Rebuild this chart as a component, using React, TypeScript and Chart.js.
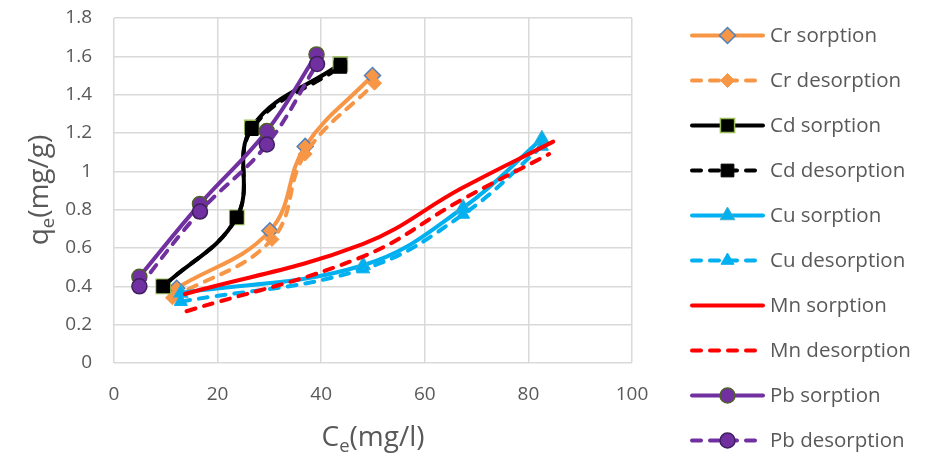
import React, { useEffect, useRef } from "react";
import { Chart, registerables } from "chart.js";

Chart.register(...registerables);

// ---------- data ----------
const seriesLabels = [
  "Cr sorption",
  "Cr desorption",
  "Cd sorption",
  "Cd desorption",
  "Cu sorption",
  "Cu desorption",
  "Mn sorption",
  "Mn desorption",
  "Pb sorption",
  "Pb desorption",
];

const crSorptionX = [12.1, 30.1, 36.9, 49.9];
const crSorptionY = [0.39, 0.69, 1.13, 1.5];
const crDesorptionX = [11.3, 30.5, 36.9, 50.3];
const crDesorptionY = [0.34, 0.645, 1.09, 1.46];

const cdSorptionX = [9.5, 23.7, 26.6, 43.7];
const cdSorptionY = [0.4, 0.76, 1.23, 1.56];
const cdDesorptionX = [9.5, 23.7, 26.6, 43.7];
const cdDesorptionY = [0.4, 0.76, 1.22, 1.545];

const cuSorptionX = [12.9, 48.1, 67.4, 82.6];
const cuSorptionY = [0.365, 0.51, 0.81, 1.17];
const cuDesorptionX = [12.9, 48.1, 67.4, 82.6];
const cuDesorptionY = [0.32, 0.49, 0.775, 1.13];

const mnSorptionX = [13.7, 48, 67, 84.8];
const mnSorptionY = [0.36, 0.62, 0.91, 1.155];
const mnDesorptionX = [14, 48, 67, 84];
const mnDesorptionY = [0.27, 0.555, 0.85, 1.09];

const pbSorptionX = [4.9, 16.6, 29.5, 39.1];
const pbSorptionY = [0.45, 0.83, 1.21, 1.61];
const pbDesorptionX = [4.9, 16.6, 29.5, 39.2];
const pbDesorptionY = [0.4, 0.79, 1.14, 1.56];

const xTickValues = [0, 20, 40, 60, 80, 100];
const yTickValues = [0, 0.2, 0.4, 0.6, 0.8, 1, 1.2, 1.4, 1.6, 1.8];

const xTitleMain = "C";
const xTitleSub = "e";
const xTitleRest = "(mg/l)";
const yTitleMain = "q";
const yTitleSub = "e";
const yTitleRest = "(mg/g)";

// ---------- styling ----------
const FONT = '"Open Sans", "Noto Sans", sans-serif';
const TEXT_COLOR = "#595959";
const ORANGE = "#F79646";
const BLUE_EDGE = "#4F81BD";
const GREEN_EDGE = "#9BBB59";
const CYAN = "#00B0F0";
const RED = "#FF0000";
const PURPLE = "#7030A0";
const DASH = [9, 9];
const LINE_W = 4;

const toPoints = (xs: number[], ys: number[]) => xs.map((x, i) => ({ x, y: ys[i] }));

type Style = {
  color: string;
  dashed: boolean;
  marker: string | false;
  radius: number;
  fill: string;
  edge: string;
  edgeWidth: number;
};

const styles: Style[] = [
  { color: ORANGE, dashed: false, marker: "rectRot", radius: 8, fill: ORANGE, edge: BLUE_EDGE, edgeWidth: 1.5 },
  { color: ORANGE, dashed: true, marker: "rectRot", radius: 7, fill: ORANGE, edge: ORANGE, edgeWidth: 1 },
  { color: "#000000", dashed: false, marker: "rect", radius: 10, fill: "#000000", edge: GREEN_EDGE, edgeWidth: 1.5 },
  { color: "#000000", dashed: true, marker: "rect", radius: 9, fill: "#000000", edge: "#000000", edgeWidth: 1 },
  { color: CYAN, dashed: false, marker: "triangle", radius: 8.5, fill: CYAN, edge: "#4BACC6", edgeWidth: 1 },
  { color: CYAN, dashed: true, marker: "triangle", radius: 7.5, fill: CYAN, edge: CYAN, edgeWidth: 1 },
  { color: RED, dashed: false, marker: false, radius: 0, fill: RED, edge: RED, edgeWidth: 0 },
  { color: RED, dashed: true, marker: false, radius: 0, fill: RED, edge: RED, edgeWidth: 0 },
  { color: PURPLE, dashed: false, marker: "circle", radius: 7.5, fill: PURPLE, edge: "#4F6228", edgeWidth: 1.5 },
  { color: PURPLE, dashed: true, marker: "circle", radius: 7.5, fill: PURPLE, edge: "#3F1F5F", edgeWidth: 1.5 },
];

const seriesData = [
  toPoints(crSorptionX, crSorptionY),
  toPoints(crDesorptionX, crDesorptionY),
  toPoints(cdSorptionX, cdSorptionY),
  toPoints(cdDesorptionX, cdDesorptionY),
  toPoints(cuSorptionX, cuSorptionY),
  toPoints(cuDesorptionX, cuDesorptionY),
  toPoints(mnSorptionX, mnSorptionY),
  toPoints(mnDesorptionX, mnDesorptionY),
  toPoints(pbSorptionX, pbSorptionY),
  toPoints(pbDesorptionX, pbDesorptionY),
];

// layout constants
const W = 935;
const H = 456;
const AREA_LEFT = 114;
const AREA_TOP = 18;
const AREA_RIGHT = 632;
const AREA_BOTTOM = 363;

const LEGEND_LINE_X0 = 692;
const LEGEND_LINE_X1 = 763;
const LEGEND_TEXT_X = 770;
const LEGEND_Y0 = 35.5;
const LEGEND_STEP = 45;
const LEGEND_FONT = 20.5;
const TICK_FONT = 19;
const TITLE_FONT = 28;

function drawMarker(ctx: CanvasRenderingContext2D, st: Style, x: number, y: number) {
  if (!st.marker) return;
  const r = st.radius;
  ctx.save();
  ctx.setLineDash([]);
  ctx.beginPath();
  if (st.marker === "circle") {
    ctx.arc(x, y, r, 0, Math.PI * 2);
  } else if (st.marker === "rect") {
    const s = Math.SQRT1_2 * r;
    ctx.rect(x - s, y - s, 2 * s, 2 * s);
  } else if (st.marker === "rectRot") {
    ctx.moveTo(x, y - r);
    ctx.lineTo(x + r, y);
    ctx.lineTo(x, y + r);
    ctx.lineTo(x - r, y);
    ctx.closePath();
  } else if (st.marker === "triangle") {
    const rad = -Math.PI / 2;
    for (let k = 0; k < 3; k++) {
      const a = rad + (k * 2 * Math.PI) / 3;
      const px = x + Math.cos(a) * r;
      const py = y + Math.sin(a) * r;
      if (k === 0) ctx.moveTo(px, py);
      else ctx.lineTo(px, py);
    }
    ctx.closePath();
  }
  ctx.fillStyle = st.fill;
  ctx.fill();
  if (st.edgeWidth > 0) {
    ctx.lineWidth = st.edgeWidth;
    ctx.strokeStyle = st.edge;
    ctx.stroke();
  }
  ctx.restore();
}

function drawSubscriptText(
  ctx: CanvasRenderingContext2D,
  main: string,
  sub: string,
  rest: string,
  cx: number,
  baseline: number,
  size: number
) {
  const subSize = size * 0.66;
  ctx.font = `${size}px ${FONT}`;
  const wMain = ctx.measureText(main).width;
  const wRest = ctx.measureText(rest).width;
  ctx.font = `${subSize}px ${FONT}`;
  const wSub = ctx.measureText(sub).width;
  const total = wMain + wSub + wRest;
  let x = cx - total / 2;
  ctx.textAlign = "left";
  ctx.textBaseline = "alphabetic";
  ctx.fillStyle = TEXT_COLOR;
  ctx.font = `${size}px ${FONT}`;
  ctx.fillText(main, x, baseline);
  x += wMain;
  ctx.font = `${subSize}px ${FONT}`;
  ctx.fillText(sub, x, baseline + size * 0.2);
  x += wSub;
  ctx.font = `${size}px ${FONT}`;
  ctx.fillText(rest, x, baseline);
}

const decorPlugin = {
  id: "decor",
  afterDraw(chart: any) {
    const ctx: CanvasRenderingContext2D = chart.ctx;
    ctx.save();
    // legend
    chart.data.datasets.forEach((ds: any, i: number) => {
      const st = styles[i];
      const y = LEGEND_Y0 + i * LEGEND_STEP;
      ctx.save();
      ctx.beginPath();
      ctx.lineWidth = LINE_W;
      ctx.lineCap = "round";
      ctx.strokeStyle = st.color;
      ctx.setLineDash(st.dashed ? DASH : []);
      ctx.moveTo(LEGEND_LINE_X0, y);
      ctx.lineTo(LEGEND_LINE_X1, y);
      ctx.stroke();
      ctx.restore();
      drawMarker(ctx, st, (LEGEND_LINE_X0 + LEGEND_LINE_X1) / 2, y);
      ctx.font = `${LEGEND_FONT}px ${FONT}`;
      ctx.fillStyle = TEXT_COLOR;
      ctx.textAlign = "left";
      ctx.textBaseline = "middle";
      ctx.fillText(ds.label, LEGEND_TEXT_X, y + 1);
    });
    // x title
    drawSubscriptText(ctx, xTitleMain, xTitleSub, xTitleRest, 373, 446, TITLE_FONT);
    // y title
    ctx.save();
    ctx.translate(48, 190);
    ctx.rotate(-Math.PI / 2);
    drawSubscriptText(ctx, yTitleMain, yTitleSub, yTitleRest, 0, 0, TITLE_FONT);
    ctx.restore();
    ctx.restore();
  },
};

export default function App() {
  const canvasRef = useRef<HTMLCanvasElement | null>(null);

  useEffect(() => {
    if (!canvasRef.current) return;
    const datasets = seriesData.map((pts, i) => {
      const st = styles[i];
      return {
        label: seriesLabels[i],
        data: pts,
        showLine: true,
        tension: 0.4,
        borderColor: st.color,
        backgroundColor: st.fill,
        borderWidth: LINE_W,
        borderDash: st.dashed ? DASH : [],
        borderCapStyle: "round" as const,
        borderJoinStyle: "round" as const,
        pointStyle: st.marker === false ? false : (st.marker as any),
        pointRadius: st.marker ? st.radius : 0,
        pointBackgroundColor: st.fill,
        pointBorderColor: st.edge,
        pointBorderWidth: st.edgeWidth,
        order: -i,
      };
    });

    const chart = new Chart(canvasRef.current, {
      type: "scatter",
      data: { datasets },
      options: {
        animation: false,
        responsive: true,
        maintainAspectRatio: false,
        layout: { padding: { left: 0, top: AREA_TOP, right: W - AREA_RIGHT, bottom: 0 } },
        plugins: {
          legend: { display: false },
          tooltip: { enabled: false },
          title: { display: false },
        },
        scales: {
          x: {
            type: "linear",
            min: 0,
            max: 100,
            afterFit: (scale: any) => {
              scale.height = H - AREA_BOTTOM;
              scale.paddingLeft = 0;
              scale.paddingRight = 0;
            },
            afterBuildTicks: (scale: any) => {
              scale.ticks = xTickValues.map((v) => ({ value: v }));
            },
            ticks: {
              color: TEXT_COLOR,
              font: { family: FONT, size: TICK_FONT },
              padding: 20,
              maxRotation: 0,
            },
            grid: { color: "#D9D9D9", lineWidth: 1.5, drawTicks: false },
            border: { display: false },
          },
          y: {
            type: "linear",
            min: 0,
            max: 1.8,
            afterFit: (scale: any) => {
              scale.width = AREA_LEFT;
              scale.paddingTop = 0;
              scale.paddingBottom = 0;
            },
            afterBuildTicks: (scale: any) => {
              scale.ticks = yTickValues.map((v) => ({ value: v }));
            },
            ticks: {
              color: TEXT_COLOR,
              font: { family: FONT, size: TICK_FONT },
              padding: 22,
              callback: (v: any) => String(Math.round(Number(v) * 10) / 10),
            },
            grid: { color: "#D9D9D9", lineWidth: 1.5, drawTicks: false },
            border: { display: false },
          },
        },
      },
      plugins: [decorPlugin],
    });
    return () => chart.destroy();
  }, []);

  return (
    <div style={{ position: "absolute", left: 0, top: 0, width: W, height: H, background: "#ffffff" }}>
      <canvas ref={canvasRef} />
    </div>
  );
}
